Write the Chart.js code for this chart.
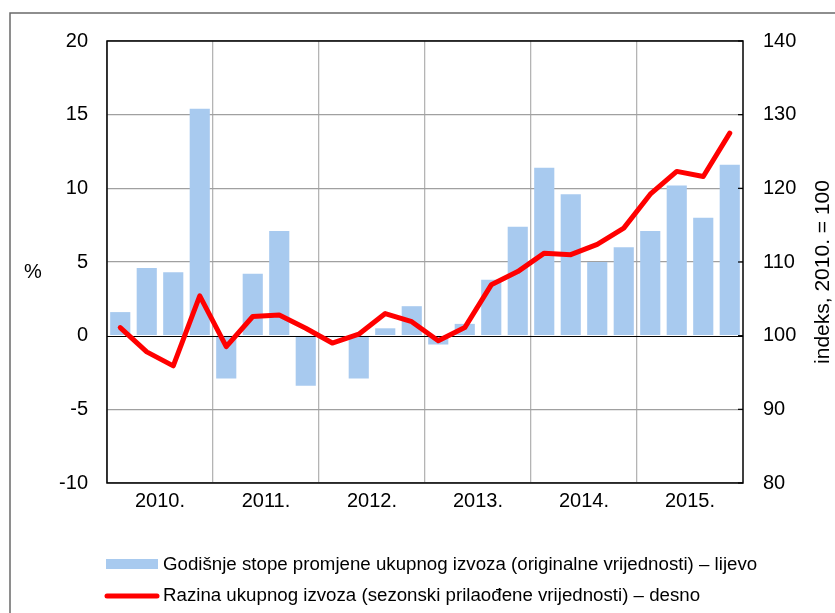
<!DOCTYPE html>
<html>
<head>
<meta charset="utf-8">
<script src="https://cdn.jsdelivr.net/npm/chart.js@4.4.0/dist/chart.umd.min.js"></script>
<style>
  html, body { margin: 0; padding: 0; background: #fff; }
  #wrap { width: 835px; height: 613px; position: relative; }
</style>
</head>
<body>
<div id="wrap"><canvas id="chart"></canvas></div>
<script>
// kvartali 2010.-2015.
const quarters = [
	'I.10', 'II.10', 'III.10', 'IV.10',
	'I.11', 'II.11', 'III.11', 'IV.11',
	'I.12', 'II.12', 'III.12', 'IV.12',
	'I.13', 'II.13', 'III.13', 'IV.13',
	'I.14', 'II.14', 'III.14', 'IV.14',
	'I.15', 'II.15', 'III.15', 'IV.15'
];
const years = ['2010.', '2011.', '2012.', '2013.', '2014.', '2015.'];

// godišnje stope promjene, % (lijevo)
const stope = [
	1.6, 4.6, 4.3, 15.4,
	-2.9, 4.2, 7.1, -3.4,
	-0.1, -2.9, 0.5, 2.0,
	-0.6, 0.8, 3.8, 7.4,
	11.4, 9.6, 5.0, 6.0,
	7.1, 10.2, 8.0, 11.6
];
// razina izvoza, indeks 2010. = 100 (desno)
const razina = [
	101.1, 97.8, 95.9, 105.4,
	98.5, 102.6, 102.8, 101.0,
	99.0, 100.2, 103.0, 101.9,
	99.3, 101.1, 106.9, 108.7,
	111.2, 111.0, 112.4, 114.6,
	119.2, 122.3, 121.6, 127.5
];

const leftTicks = { min: -10, max: 20, step: 5 };
const rightTicks = { min: 80, max: 140, step: 10 };

const labelBar = 'Godišnje stope promjene ukupnog izvoza (originalne vrijednosti) – lijevo';
const labelLine = 'Razina ukupnog izvoza (sezonski prilaođene vrijednosti) – desno';

const FONT = '"Liberation Sans", Arial, sans-serif';
const BLUE = '#a8caef';
const RED = '#ff0000';

const extras = {
	id: 'extras',
	afterDatasetDraw(chart, args) {
		// nulta linija iznad stupaca, ispod crte
		if (args.index !== 0) return;
		const {ctx, chartArea: a, scales} = chart;
		const y0 = Math.round(scales.y.getPixelForValue(0)) + 0.5;
		ctx.save();
		ctx.strokeStyle = '#000';
		ctx.lineWidth = 1.2;
		ctx.beginPath();
		ctx.moveTo(a.left, y0);
		ctx.lineTo(a.right, y0);
		ctx.stroke();
		ctx.restore();
	},
	afterDraw(chart) {
		const {ctx, chartArea: a, scales} = chart;
		ctx.save();
		// vanjski okvir
		ctx.strokeStyle = '#6a6a6a';
		ctx.lineWidth = 1.5;
		ctx.beginPath();
		ctx.moveTo(10, 613);
		ctx.lineTo(10, 13);
		ctx.lineTo(835, 13);
		ctx.stroke();

		// okvir grafa
		ctx.strokeStyle = '#000';
		ctx.lineWidth = 1.5;
		ctx.strokeRect(a.left, a.top, a.right - a.left, a.bottom - a.top);

		// kratke crtice na desnoj osi
		ctx.lineWidth = 1.2;
		for (let v = rightTicks.min; v <= rightTicks.max; v += rightTicks.step) {
			const y = scales.y1.getPixelForValue(v);
			ctx.beginPath();
			ctx.moveTo(a.right - 5, y);
			ctx.lineTo(a.right, y);
			ctx.stroke();
		}

		// naslovi osi
		ctx.fillStyle = '#000';
		ctx.font = '20px ' + FONT;
		ctx.textAlign = 'center';
		ctx.textBaseline = 'middle';
		ctx.fillText('%', 33, 272);
		ctx.save();
		ctx.font = '21px ' + FONT;
		ctx.translate(823, 272);
		ctx.rotate(-Math.PI / 2);
		ctx.fillText('indeks, 2010. = 100', 0, 0);
		ctx.restore();

		// legenda
		ctx.font = '18.7px ' + FONT;
		ctx.textAlign = 'left';
		ctx.fillStyle = BLUE;
		ctx.fillRect(106, 559, 52, 10);
		ctx.fillStyle = '#000';
		ctx.fillText(labelBar, 163, 565);
		ctx.strokeStyle = RED;
		ctx.lineWidth = 5;
		ctx.lineCap = 'round';
		ctx.beginPath();
		ctx.moveTo(107, 596);
		ctx.lineTo(157, 596);
		ctx.stroke();
		ctx.fillText(labelLine, 163, 596);
		ctx.restore();
	}
};

new Chart(document.getElementById('chart'), {
	data: {
		labels: quarters,
		datasets: [{
			type: 'bar',
			label: labelBar,
			data: stope,
			yAxisID: 'y',
			backgroundColor: BLUE,
			barPercentage: 0.76,
			categoryPercentage: 1,
			order: 2
		}, {
			type: 'line',
			label: labelLine,
			data: razina,
			yAxisID: 'y1',
			borderColor: RED,
			borderWidth: 5,
			pointRadius: 0,
			tension: 0,
			borderJoinStyle: 'round',
			borderCapStyle: 'round',
			order: 1
		}]
	},
	options: {
		responsive: true,
		maintainAspectRatio: false,
		animation: false,
		layout: { padding: { top: 41, left: 0, right: 0, bottom: 0 } },
		plugins: {
			legend: { display: false },
			tooltip: { enabled: false }
		},
		scales: {
			x: {
				type: 'category',
				offset: true,
				border: { display: false },
				ticks: { display: false },
				grid: {
					offset: true,
					drawTicks: false,
					color: ctx => (ctx.index % 4 === 0 ? '#b4b4b4' : 'rgba(0,0,0,0)'),
					lineWidth: 1.3
				},
				afterFit: s => { s.height = 0; }
			},
			x2: {
				type: 'category',
				labels: years,
				position: 'bottom',
				offset: true,
				border: { display: false },
				grid: { display: false, drawTicks: false },
				ticks: { color: '#000', font: { family: FONT, size: 20 }, padding: 6, maxRotation: 0 },
				afterFit: s => { s.height = 130; }
			},
			y: {
				position: 'left',
				min: leftTicks.min,
				max: leftTicks.max,
				border: { display: false },
				ticks: { stepSize: leftTicks.step, color: '#000', font: { family: FONT, size: 20 }, padding: 19 },
				grid: {
					drawTicks: false,
					color: ctx => (ctx.tick.value === 0 ? 'rgba(0,0,0,0)' : '#a0a0a0'),
					lineWidth: 1.3
				},
				afterFit: s => { s.width = 107; }
			},
			y1: {
				position: 'right',
				min: rightTicks.min,
				max: rightTicks.max,
				border: { display: false },
				ticks: { stepSize: rightTicks.step, color: '#000', font: { family: FONT, size: 20 }, padding: 20 },
				grid: { display: false, drawTicks: false },
				afterFit: s => { s.width = 92; }
			}
		}
	},
	plugins: [extras]
});
</script>
</body>
</html>
